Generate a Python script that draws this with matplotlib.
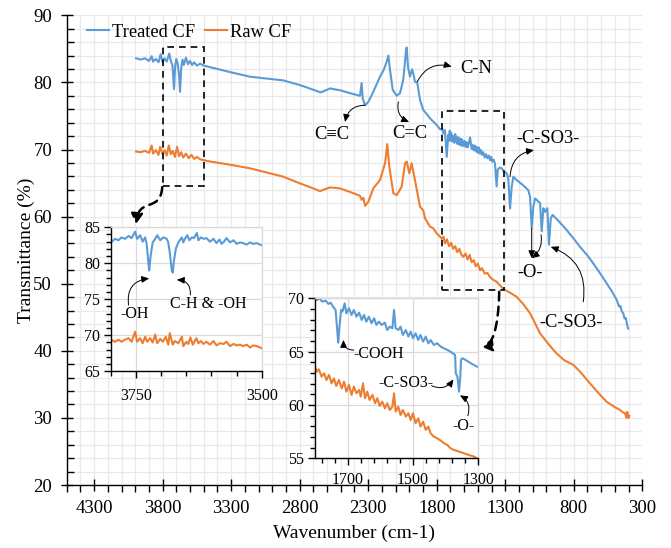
import numpy as np
import matplotlib
matplotlib.use("Agg")
import matplotlib.pyplot as plt
from matplotlib.ticker import MultipleLocator, FixedLocator
from matplotlib.patches import Rectangle, FancyArrowPatch
from matplotlib.path import Path

plt.rcParams['font.family'] = ['Liberation Serif', 'DejaVu Serif']

BLUE = '#5B9BD5'
ORANGE = '#ED7D31'
GRID = '#e9e9e9'

# ---- full spectra -------------------------------------------------------
treated_wn = [3994, 3960, 3930, 3900, 3880, 3870, 3850, 3830, 3815, 3800, 3785, 3770,
              3752, 3740, 3728, 3717, 3708, 3700, 3690, 3680, 3673, 3665, 3655, 3645,
              3630, 3615, 3600, 3585, 3570, 3550, 3527, 3500, 3300, 3163, 2920, 2798,
              2700, 2647, 2600, 2579, 2500, 2433, 2360, 2348, 2340, 2323, 2299, 2263,
              2214, 2185, 2165, 2153, 2141, 2121, 2092, 2068, 2044, 2024, 2019, 2010,
              1995, 1980, 1971, 1959, 1942, 1922, 1898, 1870, 1849, 1800, 1775, 1760,
              1752, 1740, 1727, 1716, 1710, 1705, 1700, 1695, 1690, 1685, 1679, 1672,
              1665, 1660, 1655, 1648, 1640, 1632, 1625, 1620, 1615, 1610, 1606, 1598,
              1590, 1582, 1575, 1566, 1557, 1545, 1538, 1530, 1522, 1515, 1508, 1500,
              1492, 1484, 1477, 1470, 1460, 1450, 1440, 1430, 1420, 1411, 1403, 1395,
              1385, 1375, 1363, 1355, 1340, 1326, 1309, 1290, 1278, 1265,
              1253, 1241, 1220, 1192, 1160, 1132, 1119, 1107, 1095, 1083, 1065, 1046,
              1034, 1022, 1010, 993, 981, 968, 954, 900, 852, 800, 755, 700, 657, 600,
              560, 520, 487, 470, 460, 450, 439, 430, 420, 410, 403]
treated_t = [83.6, 83.4, 83.6, 83.2, 83.9, 83.1, 83.5, 83.0, 84.2, 83.0, 83.6, 83.1,
             84.3, 83.2, 82.5, 79.0, 82.6, 83.5, 82.8, 81.0, 78.6, 82.0, 83.4, 82.6,
             83.7, 82.7, 83.2, 82.6, 83.0, 82.5, 82.8, 82.5, 81.5, 80.85, 80.3, 79.6,
             78.9, 78.5, 78.9, 79.1, 78.8, 78.4, 78.0, 79.9, 77.6, 76.6, 77.1, 78.6,
             80.85, 81.95, 83.1, 84.0, 81.85, 78.9, 78.0, 78.4, 80.4, 84.8, 85.2, 82.3,
             80.85, 81.95, 81.35, 80.1, 79.95, 77.4, 75.9, 75.2, 74.65, 73.65, 73.0, 73.1,
             72.4, 72.9, 68.9, 72.2, 71.3, 72.8, 71.4, 72.5, 71.2, 72.1, 71.7, 71.0,
             72.3, 71.1, 71.9, 70.8, 71.8, 70.7, 71.6, 70.6, 71.5, 70.5, 70.7, 71.3,
             70.4, 71.1, 70.3, 70.9, 71.8, 70.1, 70.7, 69.9, 70.6, 69.7, 70.4, 69.5,
             70.3, 69.4, 69.9, 69.2, 69.6, 68.8, 69.3, 68.7, 69.1, 68.4, 68.9, 68.2,
             68.5, 67.9, 64.5, 67.0, 67.3, 67.2, 66.7, 66.45, 65.7, 61.2,
             64.45, 65.95, 65.5, 65.05, 64.5, 63.95, 62.95, 58.3, 61.5, 62.7, 62.4, 62.0,
             57.8, 61.25, 60.7, 61.25, 55.8, 59.75, 60.25, 59.1, 58.0, 56.7, 55.5, 54.2, 53.0, 51.3,
             50.05, 48.8, 47.6, 46.6, 46.7, 45.9, 45.6, 44.8, 44.9, 43.8, 43.3]

raw_wn = [3994, 3960, 3930, 3900, 3880, 3870, 3850, 3830, 3818, 3800, 3785, 3770,
          3755, 3740, 3725, 3710, 3695, 3680, 3665, 3650, 3630, 3610, 3590, 3570,
          3550, 3527, 3479, 3300, 3163, 2920, 2798, 2700, 2652, 2600, 2579, 2506,
          2409, 2360, 2348, 2335, 2323, 2299, 2263, 2214, 2177, 2161, 2146, 2117,
          2092, 2056, 2031, 2019, 2000, 1983, 1959, 1922, 1898, 1886, 1849, 1825,
          1800, 1780, 1764, 1750, 1740, 1725, 1710, 1695, 1680, 1665, 1650, 1635,
          1620, 1606, 1590, 1575, 1560, 1545, 1530, 1515, 1500, 1484, 1470, 1450,
          1430, 1411, 1390, 1363, 1314, 1260, 1217, 1170, 1119, 1080, 1046, 1000,
          960, 925, 870, 803, 750, 682, 620, 560, 500, 463, 440, 426, 415, 410,
          400, 395]
raw_t = [69.7, 69.6, 69.8, 69.5, 70.6, 69.4, 69.9, 69.2, 70.4, 69.3, 69.9, 69.1,
         70.6, 69.3, 69.8, 68.9, 70.4, 69.0, 69.6, 68.8, 69.4, 68.7, 69.2, 68.6,
         68.9, 68.55, 68.3, 67.7, 67.2, 65.95, 64.95, 64.2, 63.8, 64.2, 64.35, 64.2,
         63.5, 63.1, 62.5, 62.8, 61.6, 62.2, 64.2, 65.45, 67.95, 70.8, 67.45, 63.5,
         63.2, 64.45, 67.95, 68.2, 66.45, 67.95, 65.45, 61.5, 60.9, 59.75, 58.5, 58.25,
         57.5, 57.1, 56.75, 57.0, 56.0, 56.6, 55.6, 56.1, 55.2, 55.6, 54.7, 55.2,
         54.3, 54.0, 54.5, 53.6, 54.3, 53.2, 53.5, 52.6, 53.0, 52.0, 52.3, 51.5,
         51.6, 51.0, 50.6, 50.3, 49.2, 48.6, 48.05, 47.0, 45.6, 44.0, 42.6, 41.4,
         40.4, 39.6, 38.6, 37.9, 36.8, 35.15, 33.7, 32.4, 31.6, 31.2, 30.8, 30.7, 30.0, 30.9,
         30.0, 30.3]

# ---- 3800-3500 detail ---------------------------------------------------
oh_treated_wn = [3800, 3792, 3785, 3779, 3772, 3765, 3759, 3752, 3748, 3742, 3737, 3732,
                 3729, 3726, 3724, 3721, 3717, 3712, 3708, 3702, 3696, 3689, 3686, 3683,
                 3679, 3677, 3675, 3671, 3666, 3659, 3656, 3653, 3648, 3644, 3639, 3635,
                 3629, 3626, 3621, 3616, 3610, 3603, 3596, 3590, 3584, 3580, 3575, 3570,
                 3563, 3556, 3550, 3543, 3537, 3530, 3523, 3517, 3510, 3500]
oh_treated_t = [82.9, 83.4, 83.2, 83.6, 83.4, 83.8, 83.5, 84.4, 83.4, 83.9, 83.0, 83.6,
                82.7, 80.4, 79.0, 81.1, 82.9, 83.4, 83.9, 83.2, 83.6, 83.4, 82.9, 81.5,
                79.0, 78.7, 80.2, 82.0, 82.9, 83.6, 82.9, 83.4, 83.9, 83.2, 83.6, 83.5,
                84.2, 83.2, 83.6, 83.4, 83.5, 83.0, 83.4, 82.8, 83.3, 82.7, 83.0, 83.5,
                82.9, 83.2, 82.7, 82.9, 82.8, 82.6, 82.9, 82.7, 82.8, 82.5]
oh_raw_wn = [3800, 3792, 3785, 3779, 3772, 3765, 3759, 3752, 3748, 3742, 3737, 3732,
             3728, 3722, 3717, 3712, 3708, 3702, 3697, 3691, 3686, 3683, 3677, 3673,
             3666, 3659, 3656, 3650, 3646, 3642, 3637, 3630, 3626, 3621, 3616, 3610,
             3603, 3596, 3590, 3583, 3576, 3570, 3563, 3556, 3550, 3543, 3537, 3530,
             3523, 3517, 3510, 3500]
oh_raw_t = [69.4, 69.1, 69.4, 69.1, 69.4, 69.6, 69.1, 70.5, 69.1, 69.6, 68.9, 69.8,
            69.1, 69.6, 69.0, 70.1, 68.9, 69.5, 69.1, 69.8, 68.7, 70.3, 68.7, 69.2,
            68.9, 69.8, 68.5, 69.1, 68.8, 69.7, 68.7, 69.6, 68.9, 69.2, 68.8, 69.1,
            68.7, 69.2, 68.6, 68.9, 68.8, 69.1, 68.5, 68.8, 68.6, 68.7, 68.5, 68.7,
            68.3, 68.6, 68.5, 68.2]

# ---- 1800-1300 detail ---------------------------------------------------
fp_treated_wn = [1800, 1793, 1786, 1778, 1767, 1759, 1752, 1745, 1737, 1732, 1729, 1725,
                 1720, 1716, 1709, 1704, 1696, 1688, 1681, 1673, 1665, 1657, 1650, 1643,
                 1635, 1627, 1619, 1612, 1604, 1596, 1586, 1579, 1571, 1563, 1558, 1553,
                 1545, 1538, 1531, 1522, 1514, 1507, 1500, 1492, 1484, 1477, 1469, 1461,
                 1453, 1446, 1436, 1426, 1415, 1405, 1395, 1385, 1378, 1371, 1369, 1364,
                 1359, 1355, 1353, 1349, 1339, 1323, 1300]
fp_treated_t = [70.0, 69.84, 70.0, 69.69, 69.78, 69.47, 69.59, 69.22, 68.91, 67.03, 65.84, 67.34,
                68.91, 68.75, 69.53, 68.59, 69.06, 68.44, 68.91, 68.28, 68.66, 67.97, 68.44, 67.81,
                68.28, 67.66, 68.13, 67.5, 67.81, 67.5, 67.72, 67.03, 67.34, 67.19, 68.91, 67.19,
                67.03, 67.34, 66.56, 67.03, 66.41, 66.88, 66.25, 66.72, 66.09, 66.56, 65.94, 66.41,
                65.78, 66.09, 65.63, 65.78, 65.47, 65.31, 65.16, 65.0, 64.84, 64.69, 62.97, 62.66,
                61.25, 62.66, 64.22, 64.38, 64.22, 63.91, 63.53]
fp_raw_wn = [1800, 1793, 1788, 1780, 1772, 1765, 1757, 1749, 1742, 1735, 1727, 1718,
             1711, 1704, 1696, 1688, 1681, 1673, 1665, 1660, 1653, 1647, 1640, 1633,
             1624, 1616, 1609, 1602, 1594, 1586, 1579, 1571, 1563, 1558, 1553, 1545,
             1538, 1531, 1522, 1514, 1507, 1500, 1492, 1484, 1477, 1469, 1461, 1453,
             1446, 1436, 1426, 1415, 1405, 1395, 1385, 1374, 1359, 1344, 1329, 1313, 1300]
fp_raw_t = [63.53, 63.13, 63.34, 62.66, 62.97, 62.34, 62.81, 62.03, 62.5, 61.78, 62.34, 61.56,
            62.19, 61.25, 61.88, 60.94, 61.72, 61.09, 61.41, 60.78, 62.03, 60.63, 61.25, 60.47,
            60.94, 60.16, 60.63, 59.91, 60.31, 59.69, 60.16, 59.53, 59.84, 61.09, 59.38, 59.84,
            59.06, 59.53, 58.91, 59.22, 58.59, 59.22, 58.28, 58.75, 57.97, 58.44, 57.66, 57.97,
            57.34, 57.03, 56.88, 56.66, 56.41, 56.25, 55.94, 55.78, 55.63, 55.47, 55.31, 55.16, 54.91]

series_labels = ['Treated CF', 'Raw CF']

W, H = 671, 548
fig = plt.figure(figsize=(W / 100, H / 100), dpi=100)


def frac(l, t, r, b):
    return [l / W, 1 - b / H, (r - l) / W, (b - t) / H]


ax = fig.add_axes(frac(66.7, 15.3, 642.3, 485))
ax.plot(treated_wn, treated_t, color=BLUE, lw=1.5, label=series_labels[0], zorder=3)
ax.plot(raw_wn, raw_t, color=ORANGE, lw=1.5, label=series_labels[1], zorder=3)
ax.set_xlim(4500, 300)
ax.set_ylim(20, 90)
ax.xaxis.set_major_locator(MultipleLocator(500, offset=300))
ax.xaxis.set_minor_locator(MultipleLocator(100))
ax.yaxis.set_major_locator(MultipleLocator(10))
ax.yaxis.set_minor_locator(MultipleLocator(2))
ax.grid(True, which='both', color=GRID, lw=0.9, zorder=0)
ax.set_axisbelow(True)
for s in ('top', 'right'):
    ax.spines[s].set_visible(False)
for s in ('left', 'bottom'):
    ax.spines[s].set_linewidth(1.0)
ax.tick_params(axis='both', which='major', direction='inout', length=9, width=1.0,
               labelsize=13.5, pad=6)
ax.tick_params(axis='x', which='minor', direction='out', length=5, width=1.0)
ax.tick_params(axis='y', which='minor', direction='in', length=5, width=1.0)
ax.set_xlabel('Wavenumber (cm-1)', fontsize=14, labelpad=6)
ax.set_ylabel('Transmittance (%)', fontsize=14, labelpad=-1)

ax.legend(loc='center left', bbox_to_anchor=(0.035, 0.9638), ncol=2, frameon=False,
          fontsize=13.3, handlelength=1.2, handletextpad=0.15, columnspacing=0.55,
          borderpad=0, borderaxespad=0)

# dashed boxes marking the zoomed regions
ax.add_patch(Rectangle((3800, 64.6), -300, 20.7, fill=False, ls=(0, (4, 3)), lw=1.2,
                       ec='black', zorder=4))
ax.add_patch(Rectangle((1764, 49.0), -455, 26.7, fill=False, ls=(0, (4, 3)), lw=1.2,
                       ec='black', zorder=4))


def curved_link(a, pts):
    path = Path(pts, [Path.MOVETO, Path.CURVE4, Path.CURVE4, Path.CURVE4])
    a.add_patch(FancyArrowPatch(path=path, arrowstyle='-|>,head_length=6,head_width=3.5',
                                ls=(0, (3.5, 2.5)), lw=1.8, color='black',
                                transform=a.transData, zorder=5, clip_on=False))


curved_link(ax, [(3803, 64.4), (3815, 60.5), (3975, 63.0), (3994, 58.9)])
curved_link(ax, [(1344, 48.8), (1350, 43.0), (1400, 40.8), (1472, 40.6)])


def tag(a, text, pos, size):
    a.text(pos[0], pos[1], text, fontsize=size, ha='center', va='center', zorder=6,
           clip_on=False)


def pointer(a, tail, head, rad):
    a.annotate('', xy=head, xytext=tail, annotation_clip=False,
               arrowprops=dict(arrowstyle='-|>,head_length=0.45,head_width=0.2', lw=0.7,
                               color='black', connectionstyle=f'arc3,rad={rad}',
                               shrinkA=0, shrinkB=0), zorder=6)


tag(ax, 'C-N', (1513, 82.0), 13.3)
pointer(ax, (1942, 80.1), (1691, 82.35), -0.4)
tag(ax, 'C≡C', (2566, 72.2), 13.3)
pointer(ax, (2323, 76.6), (2469, 74.1), 0.4)
tag(ax, 'C=C', (1995, 72.4), 13.3)
pointer(ax, (2080, 77.1), (2002, 74.1), 0.4)
tag(ax, '-C-SO3-', (988, 71.7), 13.3)
pointer(ax, (1265, 65.95), (1090, 69.9), -0.4)
tag(ax, '-O-', (1120, 51.7), 13.3)
pointer(ax, (1107, 58.25), (1107, 53.8), 0.0)
pointer(ax, (1039, 57.3), (1107, 53.8), -0.3)
tag(ax, '-C-SO3-', (820, 44.2), 13.3)
pointer(ax, (731, 47.3), (968, 55.5), 0.4)


def style_inset(a):
    a.set_facecolor('white')
    a.grid(True, which='major', color='#d9d9d9', lw=0.9)
    a.set_axisbelow(True)
    for s in ('top', 'right'):
        a.spines[s].set_color('#d9d9d9')
        a.spines[s].set_linewidth(0.9)
    for s in ('left', 'bottom'):
        a.spines[s].set_linewidth(1.0)
    a.tick_params(axis='both', which='major', direction='out', length=5, width=1.0,
                  labelsize=11.5, pad=3)
    a.tick_params(axis='both', which='minor', direction='out', length=3.5, width=1.0)


# inset: 3800-3500
ax1 = fig.add_axes(frac(111, 227.3, 261.7, 371.3), zorder=7)
ax1.plot(oh_treated_wn, oh_treated_t, color=BLUE, lw=1.5)
ax1.plot(oh_raw_wn, oh_raw_t, color=ORANGE, lw=1.5)
ax1.set_xlim(3800, 3500)
ax1.set_ylim(65, 85)
ax1.xaxis.set_major_locator(MultipleLocator(250))
ax1.xaxis.set_minor_locator(MultipleLocator(50))
ax1.yaxis.set_major_locator(MultipleLocator(5))
ax1.yaxis.set_minor_locator(MultipleLocator(1))
style_inset(ax1)
ax1.tick_params(axis='x', which='major', pad=7)
tag(ax1, '-OH', (3752, 72.96), 11.5)
pointer(ax1, (3765, 74.2), (3724, 77.9), -0.5)
tag(ax1, 'C-H & -OH', (3606, 74.3), 11.5)
pointer(ax1, (3642, 75.6), (3669, 77.7), 0.5)

# inset: 1800-1300
ax2 = fig.add_axes(frac(315, 298.3, 478.3, 458.3), zorder=7)
ax2.plot(fp_treated_wn, fp_treated_t, color=BLUE, lw=1.5)
ax2.plot(fp_raw_wn, fp_raw_t, color=ORANGE, lw=1.5)
ax2.set_xlim(1800, 1300)
ax2.set_ylim(55, 70)
ax2.xaxis.set_major_locator(FixedLocator([1300, 1500, 1700]))
ax2.xaxis.set_minor_locator(FixedLocator(np.arange(1300, 1801, 40)))
ax2.yaxis.set_major_locator(MultipleLocator(5))
ax2.yaxis.set_minor_locator(MultipleLocator(1))
style_inset(ax2)
ax2.tick_params(axis='x', which='major', pad=5)
tag(ax2, '-COOH', (1604, 64.8), 11.5)
pointer(ax2, (1681, 65.15), (1713, 66.1), -0.5)
tag(ax2, '-C-SO3-', (1521, 62.1), 11.5)
pointer(ax2, (1443, 61.8), (1376, 62.4), 0.4)
tag(ax2, '-O-', (1346, 58.0), 11.5)
pointer(ax2, (1332, 59.0), (1356, 60.9), 0.4)

fig.savefig('out.png', dpi=100)
